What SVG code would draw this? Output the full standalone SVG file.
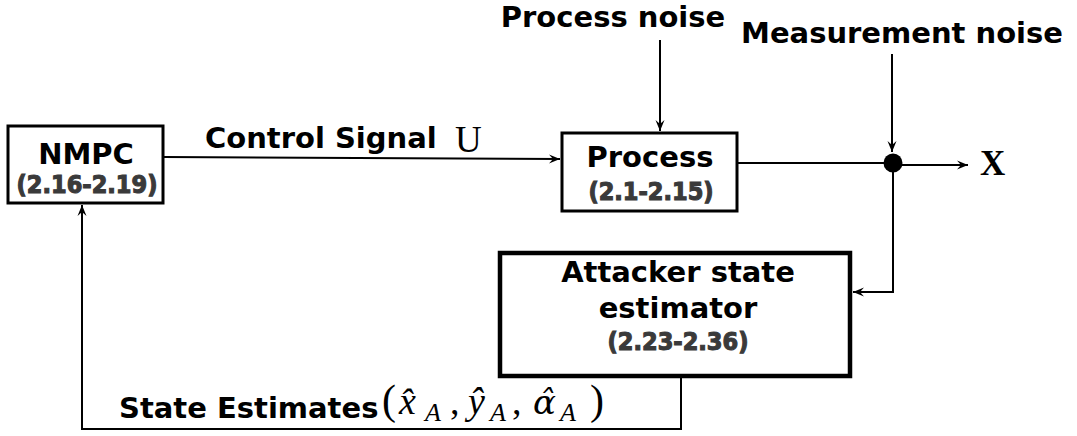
<svg xmlns="http://www.w3.org/2000/svg" width="1077" height="436" viewBox="0 0 1077 436">
  <style>
    .box { fill: #ffffff; stroke: #000000; stroke-width: 3; }
    .box-thick { fill: #ffffff; stroke: #000000; stroke-width: 4.5; }
    .wire { fill: none; stroke: #000000; stroke-width: 2; }
    .title { font-family: "DejaVu Sans", "Liberation Sans", sans-serif; font-weight: bold; font-size: 29px; fill: #000000; }
    .ref { font-family: "DejaVu Sans Condensed", "DejaVu Sans", sans-serif; font-weight: bold; font-size: 25px; fill: #3a3a3a; stroke: #3a3a3a; stroke-width: 1.1; }
    .math { font-family: "Liberation Serif", "DejaVu Serif", serif; fill: #000000; }
    .it { font-style: italic; }
    .greek { font-family: "DejaVu Serif", serif; font-style: italic; }
  </style>
  <defs>
    <marker id="arrow" viewBox="-12 -6 13 12" refX="0" refY="0" markerWidth="13" markerHeight="12" markerUnits="userSpaceOnUse" orient="auto">
      <path d="M0,0 L-11,-4.5 L-7,0 L-11,4.5 Z" fill="#000000"/>
    </marker>
  </defs>

  <!-- signal wiring -->
  <g id="connectors">
    <path class="wire" d="M163,157 L560,159" marker-end="url(#arrow)"/>
    <path class="wire" d="M660,40 L660,131" marker-end="url(#arrow)"/>
    <path class="wire" d="M892,54 L892,152" marker-end="url(#arrow)"/>
    <path class="wire" d="M737,163 L886,163"/>
    <path class="wire" d="M893,165 L968,165" marker-end="url(#arrow)"/>
    <path class="wire" d="M893,163 L893,292 L853,292" marker-end="url(#arrow)"/>
    <path class="wire" d="M681,376 L681,429 L82,429 L82,205" marker-end="url(#arrow)"/>
    <circle cx="893" cy="163" r="9.5" fill="#000000"/>
  </g>

  <!-- external inputs and output -->
  <g id="process-noise">
    <text class="title" x="613" y="27" text-anchor="middle">Process noise</text>
  </g>
  <g id="measurement-noise">
    <text class="title" x="902" y="43" text-anchor="middle">Measurement noise</text>
  </g>
  <g id="output-x">
    <text class="math" x="980" y="175" font-size="35" font-weight="bold">X</text>
  </g>

  <!-- controller -->
  <g id="nmpc">
    <rect class="box" x="8" y="126" width="155" height="77"/>
    <text class="title" x="86" y="164" text-anchor="middle">NMPC</text>
    <text class="ref" x="87" y="193" text-anchor="middle">(2.16-2.19)</text>
  </g>

  <!-- plant -->
  <g id="process">
    <rect class="box" x="562" y="133" width="175" height="78"/>
    <text class="title" x="650" y="167" text-anchor="middle">Process</text>
    <text class="ref" x="651" y="200" text-anchor="middle">(2.1-2.15)</text>
  </g>

  <!-- estimator -->
  <g id="attacker-estimator">
    <rect class="box-thick" x="500" y="253" width="350" height="123"/>
    <text class="title" x="678" y="282" text-anchor="middle">Attacker state</text>
    <text class="title" x="678" y="318" text-anchor="middle">estimator</text>
    <text class="ref" x="678" y="350" text-anchor="middle">(2.23-2.36)</text>
  </g>

  <!-- edge labels -->
  <g id="label-control">
    <text class="title" x="205" y="148">Control Signal</text>
    <text class="math" x="455" y="152" font-size="37">U</text>
  </g>
  <g id="label-estimates">
    <text class="title" x="119" y="418">State Estimates</text>
    <text class="math" font-size="38">
      <tspan x="382" y="414" font-size="42">(</tspan>
      <tspan class="it" x="399" y="414">x̂</tspan>
      <tspan class="it" x="425" y="421" font-size="26">A</tspan>
      <tspan x="450" y="414">,</tspan>
      <tspan class="it" x="468" y="414">ŷ</tspan>
      <tspan class="it" x="490" y="421" font-size="26">A</tspan>
      <tspan x="512" y="414">,</tspan>
      <tspan class="greek" x="533" y="414" font-size="34">α̂</tspan>
      <tspan class="it" x="560" y="421" font-size="26">A</tspan>
      <tspan x="590" y="414" font-size="42">)</tspan>
    </text>
  </g>
</svg>
